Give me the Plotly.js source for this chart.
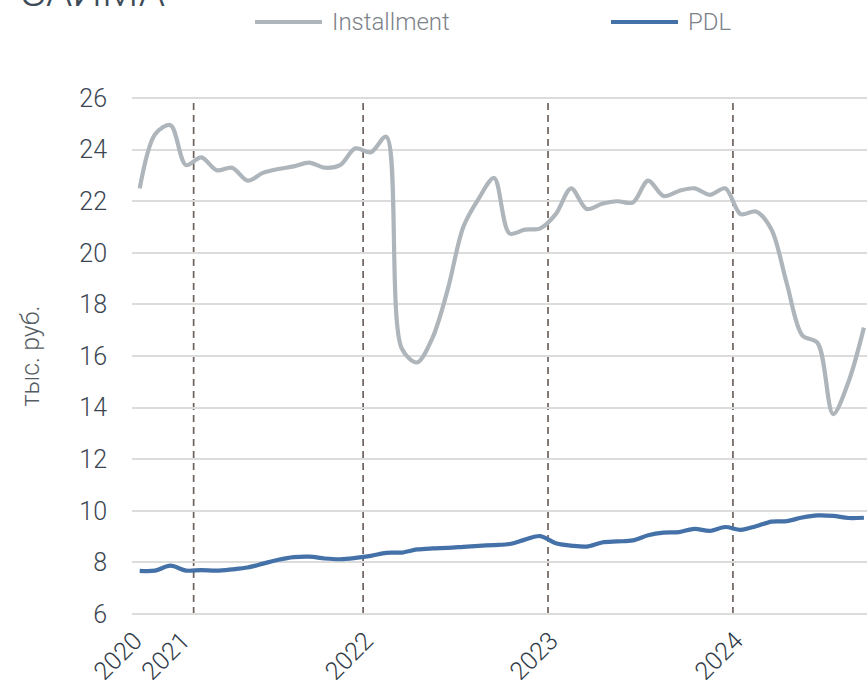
<!DOCTYPE html>
<html><head><meta charset="utf-8">
<script src="https://cdn.plot.ly/plotly-3.0.1.min.js"></script>
<style>html,body{margin:0;padding:0;background:#fff}#chart{width:867px;height:688px}</style>
</head><body><div id="chart"></div>
<script>
// Monthly periods (category positions)
const periods = [
  '2020-09','2020-10','2020-11','2020-12',
  '2021-01','2021-02','2021-03','2021-04','2021-05','2021-06','2021-07','2021-08','2021-09','2021-10','2021-11',
  '2022-01','2022-02','2022-03','2022-04','2022-05','2022-06','2022-07','2022-08','2022-09','2022-10','2022-11','2022-12',
  '2023-01','2023-02','2023-03','2023-04','2023-05','2023-06','2023-07','2023-08','2023-09','2023-10','2023-11','2023-12',
  '2024-01','2024-02','2024-03','2024-04','2024-05','2024-06','2024-07','2024-08','2024-09'
];
// тыс. руб.
const installment = [
  22.5, 24.6, 24.95, 23.4,
  23.7, 23.2, 23.3, 22.8, 23.1, 23.25, 23.35, 23.5, 23.3, 23.4, 24.05,
  23.9, 24.5, 16.3, 15.75, 16.7, 18.6, 21.0, 22.1, 22.9, 20.75, 20.9, 20.95,
  21.5, 22.5, 21.7, 21.9, 22.0, 21.95, 22.8, 22.2, 22.4, 22.5, 22.25, 22.5,
  21.5, 21.6, 20.9, 18.8, 16.8, 16.5, 13.75, 15.0, 17.1
];
const pdl = [
  7.67, 7.68, 7.87, 7.68,
  7.70, 7.68, 7.73, 7.80, 7.95, 8.10, 8.20, 8.22, 8.15, 8.12, 8.17,
  8.25, 8.37, 8.38, 8.50, 8.54, 8.56, 8.60, 8.64, 8.67, 8.71, 8.88, 9.02,
  8.74, 8.65, 8.61, 8.77, 8.81, 8.85, 9.05, 9.15, 9.17, 9.30, 9.22, 9.37,
  9.26, 9.40, 9.58, 9.60, 9.74, 9.82, 9.80, 9.72, 9.73
];
const seriesNames = ['Installment', 'PDL'];
const seriesColors = ['#aeb5bb', '#4471a7'];
const yearLabels = ['2020', '2021', '2022', '2023', '2024'];
const yearTickPos = [0, 3.1, 15, 27, 39];
const yTicks = [6, 8, 10, 12, 14, 16, 18, 20, 22, 24, 26];

const FONT = 'Roboto, "Open Sans", "DejaVu Sans", sans-serif';
const xIdx = periods.map((p, i) => i);

const traces = [installment, pdl].map((vals, k) => ({
  type: 'scatter', mode: 'lines', name: seriesNames[k],
  x: xIdx, y: vals, text: periods,
  line: {color: seriesColors[k], width: 4.2, shape: 'spline', smoothing: 0.9},
  hovertemplate: '%{text}: %{y}<extra>' + seriesNames[k] + '</extra>'
}));

// year separators at the boundary before January of each year
const shapes = yearLabels.slice(1).map(y => {
  const pos = periods.indexOf(y + '-01') - 0.5;
  return {type: 'line', layer: 'below', xref: 'x', yref: 'y', x0: pos, x1: pos, y0: 6, y1: 25.85,
    line: {color: '#6e625d', width: 1.7, dash: '7px,5px'}};
});

// custom legend (long keys)
const W = 735, H = 520; // plot area size
const px = v => (v - 132) / W;
const py = v => (616 - v) / H;
const legendKeys = [{x0: 255, x1: 322, tx: 330}, {x0: 611, x1: 678, tx: 686}];
const annotations = [];
legendKeys.forEach((k, i) => {
  shapes.push({type: 'line', xref: 'paper', yref: 'paper', x0: px(k.x0), x1: px(k.x1), y0: py(22), y1: py(22),
    line: {color: seriesColors[i], width: 4.2}});
  annotations.push({xref: 'paper', yref: 'paper', x: px(k.tx), y: py(22), xanchor: 'left', yanchor: 'middle',
    text: seriesNames[i], showarrow: false, font: {family: FONT, size: 24, color: '#7c8289', weight: 300}});
});
annotations.push({xref: 'paper', yref: 'paper', x: px(19), y: py(18), xanchor: 'left', yanchor: 'bottom',
  text: 'ЗАЙМА', showarrow: false, font: {family: FONT, size: 42, color: '#3e4b58', weight: 300}});

const layout = {
  width: 867, height: 688,
  margin: {l: 132, r: 0, t: 96, b: 72, pad: 0},
  paper_bgcolor: '#ffffff', plot_bgcolor: '#ffffff',
  showlegend: false,
  font: {family: FONT, weight: 300},
  xaxis: {
    range: [-0.5, 47.2], showgrid: false, zeroline: false, showline: false,
    tickmode: 'array', tickvals: yearTickPos, ticktext: yearLabels, tickangle: -45,
    ticks: '', ticklabelstandoff: 4, ticklabelshift: -5,
    tickfont: {family: FONT, size: 25, color: '#2f3b47', weight: 300}
  },
  yaxis: {
    range: [5.92, 26.08], tickmode: 'array', tickvals: yTicks,
    showgrid: true, gridcolor: '#dcdcdc', gridwidth: 2, zeroline: false, showline: false,
    ticks: '', ticklabelstandoff: 24,
    tickfont: {family: FONT, size: 25, color: '#3b4652', weight: 300},
    title: {text: 'тыс. руб.', standoff: 32, font: {family: FONT, size: 25, color: '#555c64', weight: 300}}
  },
  shapes: shapes,
  annotations: annotations
};

Plotly.newPlot('chart', traces, layout, {displayModeBar: false, responsive: false});
</script></body></html>
